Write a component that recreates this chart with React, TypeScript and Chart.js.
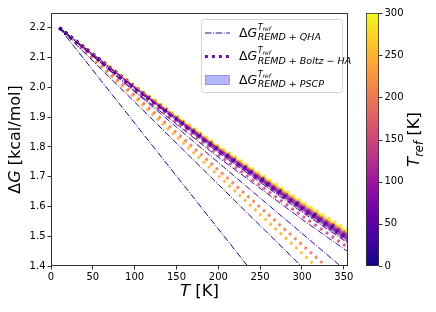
import React, { useEffect, useRef } from "react";
import { Chart, registerables } from "chart.js";

Chart.register(...registerables);

// ---------- data ----------
const T_GRID = [10, 100, 200, 300, 355];
const X_TICKS = [0, 50, 100, 150, 200, 250, 300, 350];
const Y_TICKS = [1.4, 1.5, 1.6, 1.7, 1.8, 1.9, 2.0, 2.1, 2.2];
const CBAR_TICKS = [0, 50, 100, 150, 200, 250, 300];

// QHA (dash-dot) lines, one per reference temperature
const QHA_TREF = [0, 10, 25, 40, 55, 70, 100, 150, 200, 250, 300];
const QHA_DG = [
  [2.2, 1.88, 1.5244, 1.1689, 0.9733],
  [2.2, 1.9509, 1.674, 1.3972, 1.245],
  [2.2, 1.9857, 1.7476, 1.5095, 1.3786],
  [2.2, 1.9878, 1.7653, 1.5567, 1.448],
  [2.2, 1.9953, 1.7813, 1.5811, 1.477],
  [2.2, 1.9987, 1.7884, 1.5921, 1.49],
  [2.2, 2.0006, 1.7923, 1.5979, 1.497],
  [2.2, 2.0021, 1.7956, 1.603, 1.503],
  [2.2, 2.0032, 1.7978, 1.6063, 1.507],
  [2.2, 2.0042, 1.8, 1.6097, 1.511],
  [2.2, 2.0053, 1.8022, 1.6131, 1.515],
];

// Boltz-HA (dotted) lines
const BOLTZ_TREF = [10, 25, 50, 75, 100, 150, 200, 250, 275];
const BOLTZ_DG = [
  [2.2, 2.0026, 1.7967, 1.6047, 1.505],
  [2.2, 2.0013, 1.7939, 1.6005, 1.5],
  [2.2, 2.0, 1.7912, 1.5963, 1.495],
  [2.2, 1.9987, 1.7884, 1.5921, 1.49],
  [2.2, 1.9974, 1.7857, 1.5878, 1.485],
  [2.2, 1.9914, 1.773, 1.5685, 1.462],
  [2.2, 1.9739, 1.7228, 1.4716, 1.3334],
  [2.2, 1.9651, 1.7041, 1.4431, 1.2995],
  [2.2, 2.0063, 1.8044, 1.6164, 1.519],
];

// PSCP shaded bands
const PSCP_TREF = [25, 75, 150, 250, 300];
const PSCP_LOW = [
  [2.2, 1.9961, 1.783, 1.5836, 1.48],
  [2.2, 1.9974, 1.7857, 1.5878, 1.485],
  [2.2, 2.0, 1.7912, 1.5963, 1.495],
  [2.2, 2.0026, 1.7967, 1.6047, 1.505],
  [2.2, 2.0039, 1.7994, 1.6089, 1.51],
];
const PSCP_HIGH = [
  [2.2, 2.0013, 1.7939, 1.6005, 1.5],
  [2.2, 2.0026, 1.7967, 1.6047, 1.505],
  [2.2, 2.0045, 1.8005, 1.6106, 1.512],
  [2.2, 2.006, 1.8039, 1.6156, 1.518],
  [2.2, 2.0066, 1.805, 1.6173, 1.52],
];

const TREF_MAX = 300;

// ---------- colour map ----------
const PLASMA = [
  "#0d0887", "#41049d", "#6a00a8", "#8f0da4", "#b12a90", "#cc4778",
  "#e16462", "#f2844b", "#fca636", "#fcce25", "#f0f921",
];
function hexRgb(h: string) {
  return [parseInt(h.slice(1, 3), 16), parseInt(h.slice(3, 5), 16), parseInt(h.slice(5, 7), 16)];
}
function plasma(t: number, a = 1) {
  const c = Math.max(0, Math.min(1, t)) * 10;
  const i = Math.min(9, Math.floor(c));
  const f = c - i;
  const p = hexRgb(PLASMA[i]);
  const q = hexRgb(PLASMA[i + 1]);
  const m = p.map((v, k) => Math.round(v + (q[k] - v) * f));
  return `rgba(${m[0]},${m[1]},${m[2]},${a})`;
}

const FF = '"DejaVu Sans", sans-serif';
const DASH_DOT = [6.4, 1.6, 1, 1.6];
const DOTTED = [2.8, 4.2];

type Run = { t: string; font: string; dy?: number };
function drawRuns(ctx: CanvasRenderingContext2D, x: number, y: number, runs: Run[]) {
  for (const r of runs) {
    ctx.font = r.font;
    ctx.fillText(r.t, x, y + (r.dy || 0));
    x += ctx.measureText(r.t).width;
  }
  return x;
}
function runsWidth(ctx: CanvasRenderingContext2D, runs: Run[]) {
  let w = 0;
  for (const r of runs) {
    ctx.font = r.font;
    w += ctx.measureText(r.t).width;
  }
  return w;
}

function legendLabel(ctx: CanvasRenderingContext2D, x: number, base: number, sub: Run[]) {
  const x1 = drawRuns(ctx, x, base, [
    { t: "Δ", font: `12.5px ${FF}` },
    { t: "G", font: `italic 12.5px ${FF}` },
  ]);
  drawRuns(ctx, x1 + 0.5, base, [
    { t: "T", font: `italic 8px ${FF}`, dy: -7 },
    { t: "ref", font: `italic 6px ${FF}`, dy: -5.5 },
  ]);
  drawRuns(ctx, x1 + 0.5, base, sub.map((r) => ({ ...r, dy: 3.7 })));
}

const overlayPlugin = {
  id: "overlay",
  afterDraw(chart: any) {
    const ctx: CanvasRenderingContext2D = chart.ctx;
    const a = chart.chartArea;
    ctx.save();
    // frame
    ctx.strokeStyle = "#333";
    ctx.lineWidth = 1;
    ctx.setLineDash([]);
    ctx.strokeRect(a.left + 0.5, a.top + 0.5, a.right - a.left - 1, a.bottom - a.top - 1);

    ctx.fillStyle = "#000";
    ctx.textBaseline = "alphabetic";
    ctx.textAlign = "left";

    // x title
    const xr: Run[] = [
      { t: "T", font: `italic 16.5px ${FF}` },
      { t: " [K]", font: `16.5px ${FF}` },
    ];
    drawRuns(ctx, (a.left + a.right) / 2 - runsWidth(ctx, xr) / 2, 296, xr);

    // y title
    const yr: Run[] = [
      { t: "Δ", font: `16px ${FF}` },
      { t: "G", font: `italic 16px ${FF}` },
      { t: " [kcal/mol]", font: `16px ${FF}` },
    ];
    ctx.save();
    ctx.translate(20, (a.top + a.bottom) / 2);
    ctx.rotate(-Math.PI / 2);
    drawRuns(ctx, -runsWidth(ctx, yr) / 2, 0, yr);
    ctx.restore();

    // colorbar
    const cbL = 366, cbR = 379, cbT = a.top, cbB = a.bottom;
    const g = ctx.createLinearGradient(0, cbB, 0, cbT);
    PLASMA.forEach((c, k) => g.addColorStop(k / 10, c));
    ctx.fillStyle = g;
    ctx.fillRect(cbL, cbT, cbR - cbL, cbB - cbT);
    ctx.strokeStyle = "#333";
    ctx.lineWidth = 0.8;
    ctx.strokeRect(cbL + 0.4, cbT + 0.4, cbR - cbL - 0.8, cbB - cbT - 0.8);
    ctx.fillStyle = "#000";
    ctx.font = `10px ${FF}`;
    ctx.textBaseline = "middle";
    ctx.lineWidth = 1;
    for (const v of CBAR_TICKS) {
      const y = cbB - (v / TREF_MAX) * (cbB - cbT);
      ctx.beginPath();
      ctx.moveTo(cbR, Math.round(y) + 0.5);
      ctx.lineTo(cbR + 3.5, Math.round(y) + 0.5);
      ctx.stroke();
      ctx.fillText(String(v), cbR + 5.5, y);
    }
    ctx.textBaseline = "alphabetic";
    const cr: Run[] = [
      { t: "T", font: `italic 16.5px ${FF}` },
      { t: "ref", font: `italic 11.5px ${FF}`, dy: 3.5 },
      { t: " [K]", font: `16.5px ${FF}` },
    ];
    ctx.save();
    ctx.translate(419, (cbT + cbB) / 2);
    ctx.rotate(-Math.PI / 2);
    drawRuns(ctx, -runsWidth(ctx, cr) / 2, 0, cr);
    ctx.restore();

    // legend
    const lx = 201, ly = 19, lw = 141, lh = 73;
    ctx.beginPath();
    (ctx as any).roundRect(lx + 0.5, ly + 0.5, lw, lh, 3);
    ctx.fillStyle = "rgba(255,255,255,0.85)";
    ctx.fill();
    ctx.strokeStyle = "#d4d4d4";
    ctx.lineWidth = 1;
    ctx.stroke();

    const rows = [33, 56.5, 80];
    // entry 1: dash-dot
    ctx.strokeStyle = plasma(0.05);
    ctx.lineWidth = 1;
    ctx.setLineDash(DASH_DOT);
    ctx.beginPath();
    ctx.moveTo(205, rows[0]);
    ctx.lineTo(230, rows[0]);
    ctx.stroke();
    // entry 2: dotted
    ctx.strokeStyle = plasma(0.2);
    ctx.lineWidth = 3;
    ctx.setLineDash(DOTTED);
    ctx.beginPath();
    ctx.moveTo(205, rows[1]);
    ctx.lineTo(230, rows[1]);
    ctx.stroke();
    ctx.setLineDash([]);
    // entry 3: patch
    ctx.fillStyle = "rgba(90,90,240,0.45)";
    ctx.strokeStyle = "rgba(90,90,240,0.55)";
    ctx.lineWidth = 1;
    ctx.fillRect(205.5, rows[2] - 4.5, 24, 9);
    ctx.strokeRect(205.5, rows[2] - 4.5, 24, 9);

    ctx.fillStyle = "#000";
    const sf = `italic 9.5px ${FF}`;
    const nf = `9.5px ${FF}`;
    legendLabel(ctx, 239, rows[0] + 3.5, [
      { t: "REMD", font: sf }, { t: " + ", font: nf }, { t: "QHA", font: sf },
    ]);
    legendLabel(ctx, 239, rows[1] + 3.5, [
      { t: "REMD", font: sf }, { t: " + ", font: nf }, { t: "Boltz", font: sf },
      { t: " − ", font: nf }, { t: "HA", font: sf },
    ]);
    legendLabel(ctx, 239, rows[2] + 3.5, [
      { t: "REMD", font: sf }, { t: " + ", font: nf }, { t: "PSCP", font: sf },
    ]);
    ctx.restore();
  },
};

function pts(vals: number[]) {
  return T_GRID.map((t, i) => ({ x: t, y: vals[i] }));
}

export default function App() {
  const ref = useRef<HTMLCanvasElement | null>(null);
  useEffect(() => {
    document.body.style.margin = "0";
    const datasets: any[] = [];
    PSCP_TREF.forEach((tr, i) => {
      datasets.push({
        data: pts(PSCP_LOW[i]),
        borderWidth: 0,
        borderColor: "rgba(0,0,0,0)",
        pointRadius: 0,
        fill: false,
        order: 3,
      });
      datasets.push({
        data: pts(PSCP_HIGH[i]),
        borderWidth: 0,
        borderColor: "rgba(0,0,0,0)",
        backgroundColor: plasma(tr / TREF_MAX, 0.4),
        pointRadius: 0,
        fill: "-1",
        order: 3,
      });
    });
    BOLTZ_TREF.forEach((tr, i) => {
      datasets.push({
        data: pts(BOLTZ_DG[i]),
        borderColor: plasma(tr / TREF_MAX, 0.85),
        borderWidth: 3,
        borderDash: DOTTED,
        borderCapStyle: "butt",
        pointRadius: 0,
        fill: false,
        order: 2,
      });
    });
    QHA_TREF.forEach((tr, i) => {
      datasets.push({
        data: pts(QHA_DG[i]),
        borderColor: plasma(tr / TREF_MAX),
        borderWidth: 1,
        borderDash: DASH_DOT,
        pointRadius: 0,
        fill: false,
        order: 1,
      });
    });

    const chart = new Chart(ref.current as HTMLCanvasElement, {
      type: "line",
      data: { datasets },
      options: {
        animation: false,
        responsive: false,
        devicePixelRatio: 1,
        events: [],
        layout: { padding: { top: 13, right: 88, bottom: 0, left: 0 } },
        plugins: { legend: { display: false }, tooltip: { enabled: false } },
        elements: { line: { tension: 0 } },
        scales: {
          x: {
            type: "linear",
            min: 0,
            max: 355,
            afterBuildTicks: (s: any) => {
              s.ticks = X_TICKS.map((v) => ({ value: v }));
            },
            afterFit: (s: any) => {
              s.height = 46;
            },
            grid: { drawOnChartArea: false, drawTicks: true, tickLength: 3.5, color: "#333" },
            border: { display: false },
            ticks: {
              color: "#000",
              padding: 2,
              maxRotation: 0,
              font: { family: "DejaVu Sans", size: 10 },
              callback: (v: any) => String(v),
            },
          },
          y: {
            type: "linear",
            min: 1.4,
            max: 2.25,
            afterBuildTicks: (s: any) => {
              s.ticks = Y_TICKS.map((v) => ({ value: v }));
            },
            afterFit: (s: any) => {
              s.width = 51;
            },
            grid: { drawOnChartArea: false, drawTicks: true, tickLength: 3.5, color: "#333" },
            border: { display: false },
            ticks: {
              color: "#000",
              padding: 2,
              font: { family: "DejaVu Sans", size: 10 },
              callback: (v: any) => Number(v).toFixed(1),
            },
          },
        },
      },
      plugins: [overlayPlugin],
    } as any);
    return () => chart.destroy();
  }, []);
  return (
    <div style={{ position: "absolute", left: 0, top: 0, width: 436, height: 312, background: "#fff" }}>
      <canvas ref={ref} width={436} height={312} style={{ width: 436, height: 312 }} />
    </div>
  );
}
